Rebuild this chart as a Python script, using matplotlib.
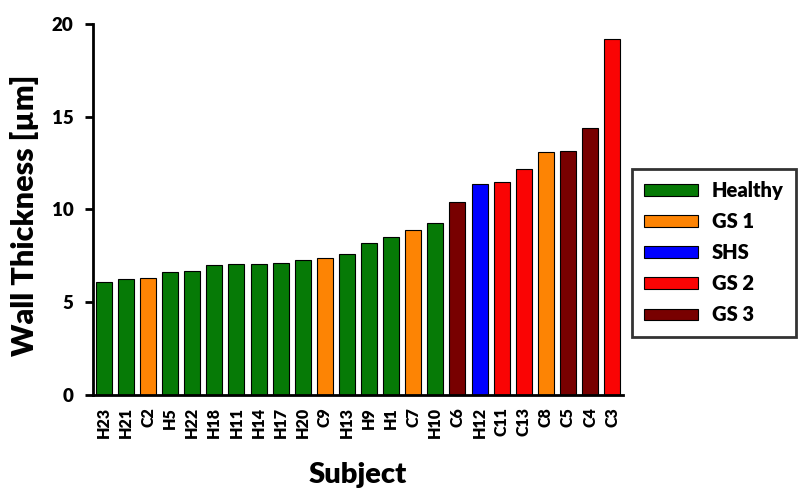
import matplotlib
matplotlib.use("Agg")
import matplotlib.pyplot as plt
from matplotlib.patches import Patch

subjects = ["H23", "H21", "C2", "H5", "H22", "H18", "H11", "H14", "H17", "H20", "C9", "H13",
            "H9", "H1", "C7", "H10", "C6", "H12", "C11", "C13", "C8", "C5", "C4", "C3"]
thickness = [6.10, 6.24, 6.29, 6.64, 6.69, 6.98, 7.03, 7.03, 7.09, 7.28, 7.37, 7.57,
             8.17, 8.53, 8.87, 9.28, 10.41, 11.38, 11.47, 12.18, 13.08, 13.17, 14.39, 19.17]
groups = ["Healthy", "Healthy", "GS 1", "Healthy", "Healthy", "Healthy", "Healthy", "Healthy",
          "Healthy", "Healthy", "GS 1", "Healthy", "Healthy", "Healthy", "GS 1", "Healthy",
          "GS 3", "SHS", "GS 2", "GS 2", "GS 1", "GS 3", "GS 3", "GS 2"]
group_names = ["Healthy", "GS 1", "SHS", "GS 2", "GS 3"]
group_colors = ["#067a06", "#fd8404", "#0000ff", "#fa0404", "#780000"]

cmap = dict(zip(group_names, group_colors))
font = "Lato"
W = "heavy"
plt.rcParams["font.family"] = [font, "DejaVu Sans"]
plt.rcParams["font.weight"] = W

fig = plt.figure(figsize=(8, 4.92), dpi=100)
ax = fig.add_axes([0.116, 0.198, 0.663, 0.753])

x = list(range(len(subjects)))
ax.bar(x, thickness, width=0.72, color=[cmap[g] for g in groups],
       edgecolor="black", linewidth=0.8, zorder=2)

ax.set_xlim(-0.5, len(subjects) - 0.5)
ax.set_ylim(0, 20)
ax.set_yticks([0, 5, 10, 15, 20])
ax.set_xticks(x)
ax.set_xticklabels(subjects, rotation=90, fontsize=11.5, fontweight=W)
ax.tick_params(axis="x", length=0, pad=9)
ax.tick_params(axis="y", length=6, width=2, labelsize=13.5, pad=8)
for lbl in ax.get_yticklabels():
    lbl.set_fontweight(W)

for s in ["top", "right"]:
    ax.spines[s].set_visible(False)
for s in ["left", "bottom"]:
    ax.spines[s].set_linewidth(2)

ax.set_ylabel("Wall Thickness [\u00b5m]", fontsize=22, fontweight=W)
ax.yaxis.set_label_coords(-0.102, 0.485)
ax.set_xlabel("Subject", fontsize=21, fontweight=W, labelpad=17)

handles = [Patch(facecolor=c, edgecolor="black", linewidth=0.8) for c in group_colors]
leg = fig.legend(handles, group_names, loc="upper left", bbox_to_anchor=(0.79, 0.6565),
                 frameon=True, fancybox=False, edgecolor="black",
                 prop={"family": font, "weight": W, "size": 14.5},
                 handlelength=2.7, handleheight=0.5, labelspacing=0.6,
                 borderpad=0.6, handletextpad=0.65, borderaxespad=0)
leg.get_frame().set_linewidth(2)

fig.savefig("out.png", dpi=100)
